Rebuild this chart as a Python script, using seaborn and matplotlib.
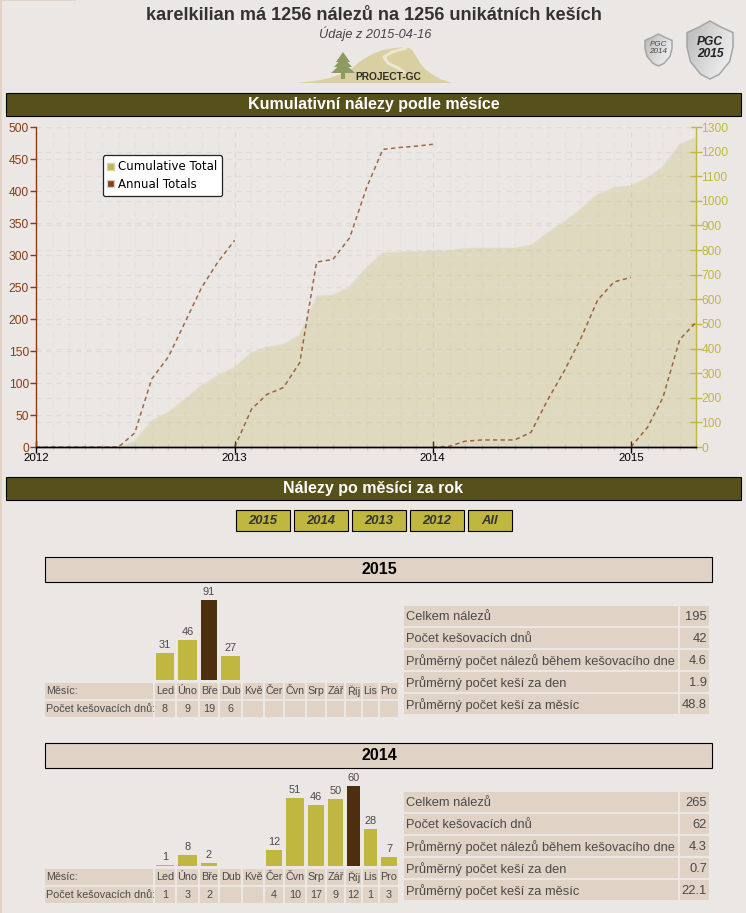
import numpy as np
import pandas as pd
import matplotlib
matplotlib.use("Agg")
import matplotlib.pyplot as plt
import seaborn as sns
from matplotlib.patches import Patch, Polygon, Rectangle
from matplotlib.ticker import MultipleLocator

# ---- data
cumulative = [0, 0, 0, 0, 0, 0, 22, 106, 141, 194, 249, 289,
              323, 382, 405, 416, 455, 612, 616, 650, 728, 788, 791, 793,
              796, 797, 805, 807, 807, 807, 819, 870, 916, 966, 1026, 1054,
              1061, 1092, 1138, 1229, 1256]
annual_2012 = [0, 0, 0, 0, 0, 0, 22, 106, 141, 194, 249, 289, 323]
annual_2013 = [0, 59, 82, 93, 132, 289, 293, 327, 405, 465, 468, 470, 473]
annual_2014 = [0, 1, 9, 11, 11, 11, 23, 74, 120, 170, 230, 258, 265]
annual_2015 = [0, 31, 77, 168, 195]

months = ["Led", "Úno", "Bře", "Dub", "Kvě", "Čer", "Čvn", "Srp", "Zář", "Říj", "Lis", "Pro"]
finds_2015 = [31, 46, 91, 27, 0, 0, 0, 0, 0, 0, 0, 0]
days_2015 = ["8", "9", "19", "6", "", "", "", "", "", "", "", ""]
finds_2014 = [1, 8, 2, 0, 0, 12, 51, 46, 50, 60, 28, 7]
days_2014 = ["1", "3", "2", "", "", "4", "10", "17", "9", "12", "1", "3"]
stat_labels = ["Celkem nálezů", "Počet kešovacích dnů", "Průměrný počet nálezů během kešovacího dne",
               "Průměrný počet keší za den", "Průměrný počet keší za měsíc"]
stats_2015 = ["195", "42", "4.6", "1.9", "48.8"]
stats_2014 = ["265", "62", "4.3", "0.7", "22.1"]
year_buttons = ["2015", "2014", "2013", "2012", "All"]

# ---- colours and page layout (pixels)
W, H = 746, 913
BG = "#ebe7e4"
CELL = "#e0d2c5"
DARK = "#56501a"
OLIVE = "#bfb740"
BROWN = "#8a3c14"
BAR_MAX = "#4d2f10"
INK = "#4a4a4a"
cell_left = [155, 177, 200, 220, 243, 265, 285, 307, 327, 346, 363, 380]
cell_right = [175, 198, 218, 241, 263, 283, 305, 325, 344, 361, 378, 398]

sns.set_theme(style="white")
plt.rcParams["font.family"] = ["Liberation Sans", "DejaVu Sans"]


def px_axes(fig, left, top, right, bottom, **kw):
    return fig.add_axes([left / W, 1 - bottom / H, (right - left) / W, (bottom - top) / H], **kw)


def pt(px):
    return px * 0.72


def box(page, x0, y0, x1, y1, face, edge="none", lw=0):
    page.add_patch(Rectangle((x0, y0), x1 - x0, y1 - y0, facecolor=face, edgecolor=edge, linewidth=lw))


def draw_shield(page, cx, top, half_w, height, label, size, label_pos):
    xs = np.array([0, .45, 1, 1, .85, .4, 0, -.4, -.85, -1, -1, -.45])
    ys = np.array([0, .1, .2, .45, .7, .92, 1, .92, .7, .45, .2, .1])
    outline = Polygon(np.c_[cx + xs * half_w, top + ys * height], closed=True,
                      facecolor="none", edgecolor="#a3a5a6", linewidth=1.1, zorder=3)
    page.add_patch(outline)
    grad = np.linspace(0, 1, 64).reshape(1, -1) + np.linspace(0, .5, 64).reshape(-1, 1)
    im = page.imshow(grad, extent=(cx - half_w, cx + half_w, top + height, top), cmap="Greys_r",
                     vmin=-3, vmax=2, aspect="auto", zorder=2)
    im.set_clip_path(outline)
    bold = size > 6
    page.text(cx, top + height * label_pos, label, ha="center", va="center", fontsize=size, fontstyle="italic",
              fontweight="bold" if bold else "normal", color="#222222" if bold else "#444444",
              linespacing=1.0, zorder=4)


def draw_logo(page):
    hill = [(296, 83), (315, 81), (330, 78), (341, 74), (350, 70), (358, 63), (367, 57), (375, 53), (383, 50),
            (395, 48), (405, 47), (409, 48), (412, 50), (416, 56), (420, 63), (425, 69), (430, 73), (440, 79), (452, 83)]
    page.add_patch(Polygon(hill, closed=True, facecolor="#d9cfa0", edgecolor="none"))
    page.plot([406, 392, 384, 388, 398, 404], [48, 52, 57, 63, 68, 72], color="#ece7d2", lw=2.2, solid_capstyle="round")
    for half, y_top, y_base in [(7, 52, 62), (9, 57, 67), (12, 62, 73)]:
        page.add_patch(Polygon([(343, y_top), (343 - half, y_base), (343 + half, y_base)], closed=True,
                               facecolor="#8d9a62", edgecolor="none"))
    box(page, 341, 73, 345, 79, "#8d9a62")
    page.text(388, 76.5, "PROJECT-GC", ha="center", va="center", fontsize=pt(10.2), fontweight="bold",
              color="#2e2e2a")


def draw_year_block(fig, page, year, finds, days, stats, dy):
    # heading strip
    box(page, 44.6, 557.5 + dy, 712, 582.5 + dy, CELL, "black", 0.8)
    page.text(379, 570 + dy, year, ha="center", va="center", fontsize=pt(16), fontweight="bold", color="black")

    # bars sit on the month columns of the table below them
    ax = px_axes(fig, 155, 600 + dy, 398, 680 + dy)
    ax.patch.set_alpha(0)
    sns.barplot(x=months, y=finds, color=OLIVE, saturation=1, ax=ax)
    peak = max(finds)
    for i, bar in enumerate(ax.containers[0]):
        bar.set_x(cell_left[i] + 1)
        bar.set_width(cell_right[i] - cell_left[i] - 2)
        bar.set_linewidth(0)
        if finds[i] == peak:
            bar.set_facecolor(BAR_MAX)
        if finds[i] > 0:
            ax.annotate(str(finds[i]), (bar.get_x() + bar.get_width() / 2, finds[i]), xytext=(0, 2.2),
                        textcoords="offset points", ha="center", va="bottom", fontsize=pt(11), color=INK,
                        annotation_clip=False)
    ax.set_xlim(155, 398)
    ax.set_ylim(0, peak)
    ax.axis("off")

    # month table
    for top, head, row in [(683, "Měsíc:", months), (701, "Počet kešovacích dnů:", days)]:
        box(page, 45, top + dy, 153, top + 16 + dy, CELL)
        page.text(46.5, top + 8.5 + dy, head, ha="left", va="center", fontsize=pt(10.7), color=INK)
        for i, val in enumerate(row):
            box(page, cell_left[i], top + dy, cell_right[i], top + 16 + dy, CELL)
            page.text((cell_left[i] + cell_right[i]) / 2, top + 8.5 + dy, val, ha="center", va="center",
                      fontsize=pt(10.7), color=INK)

    # summary table
    for i, (lab, val) in enumerate(zip(stat_labels, stats)):
        top = 606 + 22 * i + dy
        box(page, 404, top, 678, top + 20, CELL)
        box(page, 680, top, 709, top + 20, CELL)
        page.text(406, top + 11, lab, ha="left", va="center", fontsize=pt(12.9), color=INK)
        page.text(707, top + 11, val, ha="right", va="center", fontsize=pt(12.9), color=INK)


fig = plt.figure(figsize=(W / 100, H / 100), dpi=100, facecolor=BG)

# page layer for headers, tables and the logo
page = px_axes(fig, 0, 0, W, H)
page.axis("off")
box(page, 0, 0, 1.5, H, CELL)
box(page, 0, 0, 76, 1.5, CELL)
page.text(374, 16, "karelkilian má 1256 nálezů na 1256 unikátních keších", ha="center", va="center",
          fontsize=pt(18.2), fontweight="bold", color="#333333")
page.text(375, 34, "Údaje z 2015-04-16", ha="center", va="center", fontsize=pt(12.8), fontstyle="italic", color="#444444")
draw_logo(page)
draw_shield(page, 658.5, 34, 13.5, 32, "PGC\n2014", pt(8), .44)
draw_shield(page, 710, 21, 23, 58, "PGC\n2015", pt(12), .47)
page.set_xlim(0, W)
page.set_ylim(H, 0)

for top, title in [(93.5, "Kumulativní nálezy podle měsíce"), (477.5, "Nálezy po měsíci za rok")]:
    box(page, 5.6, top, 741, top + 23, DARK, "black", 0.8)
    page.text(373.5, top + 11.5, title, ha="center", va="center", fontsize=pt(16), fontweight="bold", color="white")

for (x0, x1), label in zip([(236, 290), (294, 348), (352, 406), (410, 464), (468, 512)], year_buttons):
    box(page, x0 - .4, 510.5, x1 - .5, 531.5, OLIVE, "black", 0.8)
    page.text((x0 + x1) / 2 - .5, 521, label, ha="center", va="center", fontsize=pt(13), fontweight="bold",
              fontstyle="italic", color="#333333")

# ---- cumulative chart
dates = pd.date_range("2012-01-01", periods=len(cumulative), freq="MS")
ax_r = px_axes(fig, 36, 127, 696, 447)
ax = ax_r.twinx()
ax_r.patch.set_alpha(0)
ax.patch.set_alpha(0)
grid_kw = dict(color="#dfdbd7", linestyle=(0, (4, 4)), linewidth=0.9)

ax_r.set_ylim(0, 1300)
ax_r.set_xlim(dates[0], dates[-1])
ax_r.fill_between(dates, cumulative, color="#bdb760", alpha=0.28, linewidth=0)
sns.lineplot(x=dates, y=cumulative, color="#bdb760", alpha=0.2, linewidth=1, ax=ax_r, legend=False)
ax_r.yaxis.tick_right()
ax_r.yaxis.set_major_locator(MultipleLocator(100))
ax_r.tick_params(axis="y", which="major", left=False, right=True, direction="inout", length=8, width=1,
                 labelcolor=OLIVE, color=OLIVE, labelsize=pt(12), pad=0)
ax_r.grid(True, axis="y", **grid_kw)
year_ticks = pd.date_range("2012-01-01", "2015-01-01", freq="YS")
ax_r.set_xticks(year_ticks)
ax_r.set_xticklabels([str(d.year) for d in year_ticks])
ax_r.set_xticks(dates, minor=True)
ax_r.tick_params(axis="x", which="major", bottom=True, direction="inout", length=8, width=1, color="black",
                 labelcolor="black", labelsize=pt(11.5), pad=0.5)
ax_r.tick_params(axis="x", which="minor", bottom=True, direction="inout", length=5, width=1, color="#d0ccc8")
ax_r.grid(True, axis="x", which="major", color="#dcd8d4", linestyle=(0, (4, 4)), linewidth=0.9)
ax_r.grid(True, axis="x", which="minor", color="#e6e2df", linestyle=(0, (4, 4)), linewidth=0.9)
ax_r.set_axisbelow(True)

for start, series in [(0, annual_2012), (12, annual_2013), (24, annual_2014), (36, annual_2015)]:
    sns.lineplot(x=dates[start:start + len(series)], y=series, color=BROWN, alpha=0.75, linewidth=1.1,
                 linestyle=(0, (2.8, 2.2)), ax=ax, legend=False)
ax.set_xlim(dates[0], dates[-1])
ax.set_ylim(0, 500)
ax.yaxis.tick_left()
ax.yaxis.set_major_locator(MultipleLocator(50))
ax.tick_params(axis="y", left=True, right=False, direction="out", length=4, width=1, color=BROWN,
               labelcolor=BROWN, labelsize=pt(12), pad=1)
ax.grid(True, axis="y", **grid_kw)
ax.set_axisbelow(True)
ax.set_xlabel("")
ax.set_ylabel("")
ax_r.set_xlabel("")
ax_r.set_ylabel("")
for a in (ax, ax_r):
    a.spines["top"].set_visible(False)
    a.spines["bottom"].set_color("black")
    for s in a.spines.values():
        s.set_linewidth(1)
ax.spines["right"].set_visible(False)
ax.spines["left"].set_color(BROWN)
ax_r.spines["left"].set_visible(False)
ax_r.spines["right"].set_color(OLIVE)
ax.set_zorder(ax_r.get_zorder() + 1)

handles = [Patch(facecolor=OLIVE, edgecolor="#cfcfcf", label="Cumulative Total"),
           Patch(facecolor=BROWN, edgecolor="#cfcfcf", label="Annual Totals")]
leg = ax.legend(handles=handles, loc="upper left", bbox_to_anchor=(102.5 / W, 1 - 155.5 / H),
                bbox_transform=fig.transFigure, borderaxespad=0, frameon=True, fancybox=True, framealpha=1,
                facecolor="white", edgecolor="#222222", prop={"family": "DejaVu Sans", "size": pt(11.8)},
                handlelength=0.55, handleheight=0.55, handletextpad=0.35, labelspacing=0.38,
                borderpad=0.42, labelcolor="black")
leg.get_frame().set_linewidth(0.9)

# ---- yearly blocks
draw_year_block(fig, page, "2015", finds_2015, days_2015, stats_2015, 0)
draw_year_block(fig, page, "2014", finds_2014, days_2014, stats_2014, 186)

fig.savefig("out.png", dpi=100, facecolor=BG)
